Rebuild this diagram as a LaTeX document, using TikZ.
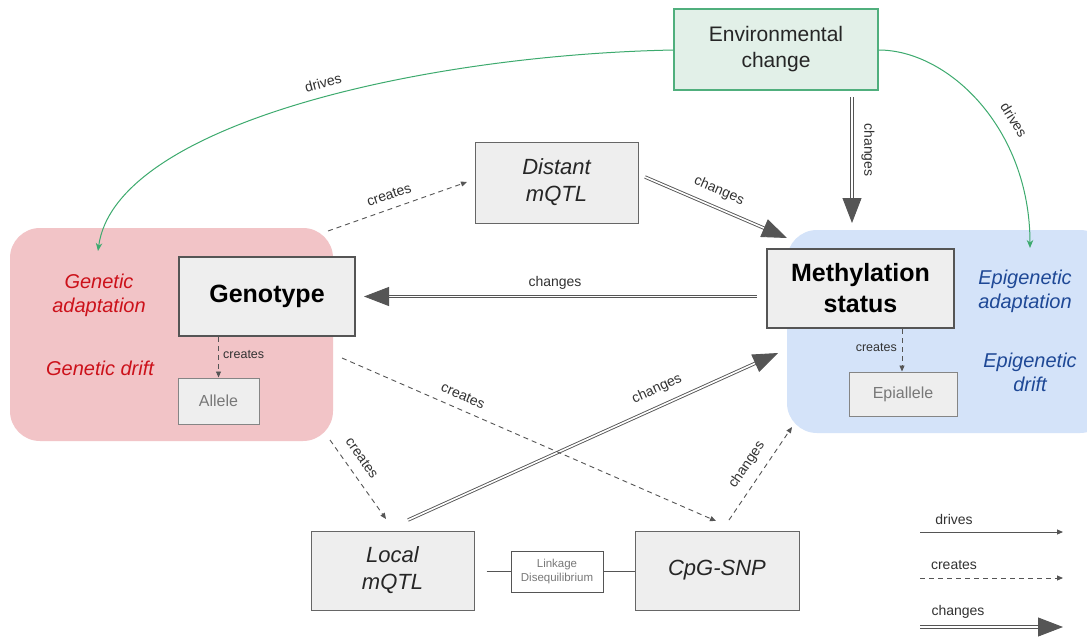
\documentclass[tikz,border=0pt]{standalone}
\usepackage{fontspec}
\setmainfont{Liberation Sans}
\usetikzlibrary{arrows.meta,calc}
\definecolor{ag}{RGB}{85,85,85}
\definecolor{lbl}{RGB}{50,50,50}
\definecolor{grn}{RGB}{61,170,110}
\definecolor{envfill}{RGB}{226,240,232}
\definecolor{envdraw}{RGB}{80,175,125}
\definecolor{pinkbg}{RGB}{242,196,199}
\definecolor{bluebg}{RGB}{212,227,249}
\definecolor{boxfill}{RGB}{238,238,238}
\definecolor{boxdraw}{RGB}{102,102,102}
\definecolor{redtxt}{RGB}{204,17,26}
\definecolor{bluetxt}{RGB}{30,72,150}
\definecolor{graytxt}{RGB}{120,120,120}
\newcommand\fsz[2]{\fontsize{#1}{#2}\selectfont}
\tikzset{
  basebox/.style={rectangle, fill=boxfill, draw=boxdraw, line width=1pt, inner sep=0pt, align=center, text=black!85},
  mainbox/.style={basebox, draw=ag, line width=2.6pt, font=\fsz{25}{31}\bfseries, text=black},
  qtlbox/.style={basebox, font=\fsz{22}{27}\itshape},
  subbox/.style={basebox, draw=boxdraw!80, font=\fsz{16}{19}, text=graytxt},
  envbox/.style={rectangle, fill=envfill, draw=envdraw, line width=1.2pt, inner sep=0pt, align=center, font=\fsz{21}{26}, text=black!85},
  ldbox/.style={rectangle, fill=white, draw=ag, line width=0.9pt, inner sep=0pt, align=center, font=\fsz{11.5}{14}, text=graytxt},
  redlab/.style={align=center, font=\fsz{20}{24}\itshape, text=redtxt},
  bluelab/.style={align=center, font=\fsz{20}{24}\itshape, text=bluetxt},
  elab/.style={font=\fsz{14}{16}, text=lbl, inner sep=1pt},
  slab/.style={font=\fsz{12.5}{15}, text=lbl, inner sep=1pt},
  drv/.style={draw=grn, line width=1pt, -{Stealth[length=8pt,width=6.5pt]}},
  crt/.style={draw=ag, line width=0.9pt, dash pattern=on 5pt off 4pt, -{Triangle[length=6pt,width=5pt]}},
  chgline/.style={draw=ag, line width=0.9pt, double=white, double distance=1.6pt, shorten >=21pt},
  chgtip/.style={draw=ag, line width=0.9pt, -{Triangle[length=25pt,width=19pt]}},
  region/.style={rounded corners=30pt, draw=none}
}
\begin{document}
\begin{tikzpicture}[x=1pt,y=-1pt]
\clip (0,0) rectangle (1087,637);
\fill[white] (0,0) rectangle (1087,637);

% background regions
\path[region, fill=pinkbg] (10,228) rectangle (333,441);
\path[region, fill=bluebg] (787,230) rectangle (1110,433);

% nodes
\node[envbox, minimum width=204pt, minimum height=81pt] (env) at (776,49.5) {Environmental\\change};
\node[mainbox, minimum width=176pt, minimum height=79pt] (gen) at (267,296.5) {Genotype};
\node[subbox, minimum width=81pt, minimum height=46pt] (allele) at (218.5,401) {Allele};
\node[mainbox, minimum width=187pt, minimum height=79pt] (meth) at (860.5,288.5) {Methylation\\status};
\node[subbox, minimum width=108pt, minimum height=44pt] (epi) at (903,394) {Epiallele};
\node[qtlbox, minimum width=163pt, minimum height=81pt] (dist) at (556.5,182.5) {Distant\\mQTL};
\node[qtlbox, minimum width=163pt, minimum height=79pt] (loc) at (392.5,570.5) {Local\\mQTL};
\node[qtlbox, minimum width=164pt, minimum height=79pt] (cpg) at (717,570.5) {CpG-SNP};
\node[ldbox, minimum width=92pt, minimum height=41pt] (ld) at (557,572) {Linkage\\Disequilibrium};

\node[redlab] (gadapt) at (99,295) {Genetic\\adaptation};
\node[redlab] (gdrift) at (100,368) {Genetic drift};
\node[bluelab] (eadapt) at (1025,291) {Epigenetic\\adaptation};
\node[bluelab] (edrift) at (1030,372) {Epigenetic\\drift};

% named end points
\coordinate (envL) at (674,50);
\coordinate (envR) at (878,50);
\coordinate (pinkTop) at (98,251);
\coordinate (blueTop) at (1030,248);
\coordinate (envB) at (852,97);
\coordinate (methT) at (852,223);
\coordinate (distR) at (645,177);
\coordinate (methTL) at (787,238);
\coordinate (methL) at (757,296.5);
\coordinate (genR) at (364,296.5);
\coordinate (genTR) at (328,231);
\coordinate (distL) at (467,182);
\coordinate (genBR) at (342,358);
\coordinate (cpgT) at (716,521);
\coordinate (pinkBR) at (330,440);
\coordinate (locT) at (386,519);
\coordinate (locTR) at (408,520);
\coordinate (methBL) at (778,353);
\coordinate (cpgTL) at (729,520);
\coordinate (blueBL) at (792,427);

% drives
\draw[drv] (env.west |- envL) .. controls (420,55) and (115,125) .. (pinkTop);
\node[elab, rotate=15] (ldrv) at (323,83) {drives};
\draw[drv] (env.east |- envR) .. controls (948,50) and (1030,128) .. (blueTop);
\node[elab, rotate=-58] (rdrv) at (1014,120) {drives};

% changes
\draw[chgline] (envB) -- (methT);
\draw[chgtip] ($(methT)!22pt!(envB)$) -- (methT);
\node[elab, rotate=-90] (l1) at (868,150) {changes};

\draw[chgline] (distR) -- (methTL);
\draw[chgtip] ($(methTL)!22pt!(distR)$) -- (methTL);
\node[elab, rotate=-23.5] (l2) at (719,191) {changes};

\draw[chgline] (methL) -- (genR);
\draw[chgtip] ($(genR)!22pt!(methL)$) -- (genR);
\node[elab] (l3) at (555,283) {changes};

\draw[chgline] (locTR) -- (methBL);
\draw[chgtip] ($(methBL)!22pt!(locTR)$) -- (methBL);
\node[elab, rotate=24.3] (l4) at (657,389) {changes};

% creates
\draw[crt] (genTR) -- (distL);
\node[elab, rotate=19] (l5) at (389,195) {creates};
\draw[crt] (genBR) -- (cpgT);
\node[elab, rotate=-23.5] (l6) at (463,396) {creates};
\draw[crt] (pinkBR) -- (locT);
\node[elab, rotate=-55] (l7) at (362,458) {creates};
\draw[crt] (gen.south -| allele) -- (allele.north);
\node[slab, anchor=west] (l8) at (222,355) {creates};
\draw[crt] (meth.south -| 902,0) -- (epi.north -| 902,0);
\node[slab, anchor=east] (l9) at (898,348) {creates};
\draw[crt] (cpgTL) -- (blueBL);
\node[elab, rotate=56] (l10) at (747,465) {changes};

% linkage
\draw[draw=ag, line width=0.9pt] (loc.east |- 0,571) ++(12,0) coordinate (ldl) -- (ld.west |- ldl);
\draw[draw=ag, line width=0.9pt] (ld.east |- 0,571) -- (cpg.west |- 0,571) ++(-9,0) coordinate (ldr);

% legend
\coordinate (g1a) at (920,532); \coordinate (g1b) at (1063,532);
\coordinate (g2a) at (920,578); \coordinate (g2b) at (1063,578);
\coordinate (g3a) at (920,627); \coordinate (g3b) at (1063,627);
\node[elab] (lg1) at (954,519) {drives};
\draw[draw=ag, line width=0.9pt, -{Triangle[length=6pt,width=5pt]}] (g1a) -- (g1b);
\node[elab] (lg2) at (954,565) {creates};
\draw[crt] (g2a) -- (g2b);
\node[elab] (lg3) at (958,612) {changes};
\draw[chgline] (g3a) -- (g3b);
\draw[chgtip] ($(g3b)!22pt!(g3a)$) -- (g3b);
\end{tikzpicture}
\end{document}
